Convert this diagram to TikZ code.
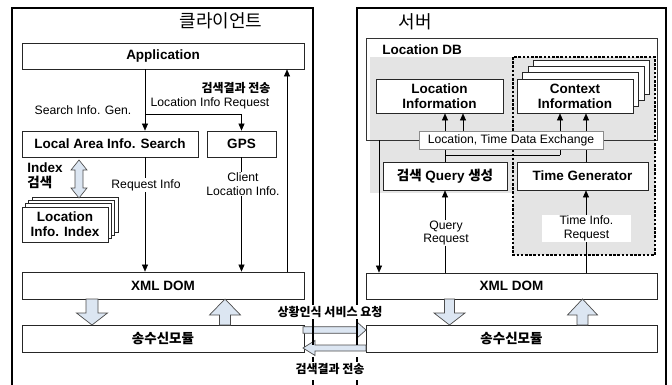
\documentclass[tikz,border=0pt]{standalone}
\usepackage{fontspec}
\setmainfont{Liberation Sans}
\newfontfamily\kr{Noto Sans CJK KR}
\usetikzlibrary{arrows.meta,calc}

\definecolor{arrowblue}{HTML}{DCE6F2}
\definecolor{dbgray}{HTML}{E4E4E4}

% vertical block arrow: centre x, tail y, head base y, tip y, shaft half width, head half width
\newcommand\vblk[6]{%
  \draw[blockarrow] ({#1-#5},#2) -- ({#1-#5},#3) -- ({#1-#6},#3) -- (#1,#4)
    -- ({#1+#6},#3) -- ({#1+#5},#3) -- ({#1+#5},#2) -- cycle;}
% horizontal block arrow: centre y, tail x, head base x, tip x, shaft half width, head half width
\newcommand\hblk[6]{%
  \draw[blockarrow] (#2,{#1-#5}) -- (#3,{#1-#5}) -- (#3,{#1-#6}) -- (#4,#1)
    -- (#3,{#1+#6}) -- (#3,{#1+#5}) -- (#2,{#1+#5}) -- cycle;}

\begin{document}
\begin{tikzpicture}[x=1pt,y=-1pt,
  box/.style={draw=black!85, line width=0.8pt, fill=white, align=center, inner sep=0pt,
    font=\fontsize{13.5}{15}\selectfont\bfseries},
  lbl/.style={font=\fontsize{12.2}{13.5}\selectfont, align=center, inner sep=1pt},
  krb/.style={font=\fontsize{12}{14}\selectfont\kr\bfseries, inner sep=1pt},
  title/.style={font=\fontsize{18}{20}\selectfont\kr, inner sep=0pt},
  wire/.style={line width=0.6pt, -{Triangle[length=7pt,width=6pt]}},
  outer/.style={line width=1.3pt, draw=black},
  blockarrow/.style={draw=black!70, line width=0.7pt, fill=arrowblue},
  layer/.style={draw=black!85, line width=0.8pt, fill=white}
]
\useasboundingbox (0,0) rectangle (672,385);

% ---------------- client side ----------------
\node[title] (ctitle) at (221,21) {클라이언트};

\node[box, minimum width=282pt, minimum height=26pt] (app) at (163,56) {Application};
\node[box, minimum width=176pt, minimum height=26pt] (lasearch) at (110,144) {Local Area Info. Search};
\node[box, minimum width=69pt, minimum height=26pt] (gps) at (241.5,144) {GPS};
\node[box, minimum width=282pt, minimum height=27pt] (xmlc) at (163,285.5) {XML DOM};
\node[box, minimum width=282pt, minimum height=27pt] (trc) at (163,338.5) {\kr 송수신모듈};

% stacked index documents
\foreach \k in {3,2,1}
  \draw[layer] ({22+3.3*\k},{207-3.3*\k}) rectangle ({108+3.3*\k},{242-3.3*\k});
\node[box, minimum width=86pt, minimum height=35pt] (locidx) at (65,224.5) {Location\\Info. Index};

\coordinate (c1) at (145,0);
\coordinate (c3) at (287,0);
\coordinate (br) at (145,114);
\draw[wire] (app.south -| c1) -- (lasearch.north -| c1);
\draw[wire] (br) -| (gps.north);
\draw[wire] (lasearch.south -| c1) -- (xmlc.north -| c1);
\draw[wire] (gps.south) -- (xmlc.north -| gps.south);
\draw[wire] (xmlc.north -| c3) -- (app.south -| c3);

\node[lbl] (sig) at (83,110) {Search Info. Gen.};
\node[krb] (cres) at (236,88) {검색결과 전송};
\node[lbl] (lir) at (210,103) {Location Info Request};
\node[lbl, fill=white] (reqi) at (146,185) {Request Info};
\node[lbl, fill=white] (cli) at (243,184) {Client\\Location Info.};
\node[box, draw=none, fill=none, align=left, anchor=west] (idxs) at (27,176) {Index\\{\kr 검색}};

% index search double arrow
\draw[blockarrow] (79,160) -- (87,170) -- (83,170) -- (83,188) -- (87,188) -- (79,198)
  -- (71,188) -- (75,188) -- (75,170) -- (71,170) -- cycle;

% XML DOM <-> module
\vblk{92}{299}{313}{325}{6}{15.5}
\vblk{225}{325}{315}{299}{5.5}{15.5}

% ---------------- server side ----------------
\node[title] (stitle) at (415,22) {서버};

% grey regions of the location DB
\fill[dbgray] (370,57) rectangle (513,193);
\fill[dbgray] (513,57) rectangle (655,255);
\node[draw=black!80, line width=0.8pt, minimum width=291pt, minimum height=102pt, inner sep=0pt]
  (locdb) at (511.5,89) {};
\node[box, draw=none, fill=none, anchor=west] (dbname) at (382,50) {Location DB};
\draw[line width=2.6pt, dash pattern=on 2.6pt off 1.6pt] (513,57) rectangle (655,255);

\node[box, minimum width=127pt, minimum height=34pt] (locinfo) at (439.5,96) {Location\\Information};
\foreach \k in {3,2,1}
  \draw[layer] ({517+5.5*\k},{79-6.3*\k}) rectangle ({633+5.5*\k},{113-6.3*\k});
\node[box, minimum width=116pt, minimum height=34pt] (context) at (575,96) {Context\\Information};

\node[box, minimum width=124pt, minimum height=28pt] (query) at (445,176) {{\kr 검색} Query {\kr 생성}};
\node[box, minimum width=131pt, minimum height=28pt] (timegen) at (582.5,176) {Time Generator};
\node[box, minimum width=291pt, minimum height=26pt] (xmls) at (511.5,286) {XML DOM};
\node[box, minimum width=291pt, minimum height=27pt] (trs) at (511.5,338.5) {\kr 송수신모듈};

\coordinate (s2) at (463,0);
\coordinate (s3) at (560,0);
\coordinate (s4) at (586,0);
\coordinate (s6) at (379,0);
\coordinate (hb) at (445,155);

\draw[wire] (query.north) -- (locinfo.south -| query.north);
\draw[line width=0.6pt] (hb) -| (s3 |- hb);
\draw[wire] (s3 |- hb) -- (context.south -| s3);
\draw[wire] (timegen.north -| s4) -- (context.south -| s4);
\draw[wire] (xmls.north -| query.south) -- (query.south);
\draw[wire] (xmls.north -| s4) -- (timegen.south -| s4);
\draw[wire] (locdb.south -| s6) -- (xmls.north -| s6);

\node[lbl, draw=black!45, line width=0.8pt, fill=white, minimum width=184pt, minimum height=18pt, inner sep=0pt]
  (xchg) at (511,140) {Location, Time Data Exchange};
\draw[wire] (xchg.north -| s2) -- (locinfo.south -| s2);

\node[lbl, fill=white] (qreq) at (446,233) {Query\\Request};
\node[lbl, fill=white, minimum width=89pt, minimum height=27pt, inner sep=0pt] (treq) at (586.5,228.5) {Time Info.\\Request};

\vblk{449.5}{299}{313}{325}{5}{15.5}
\vblk{582.5}{325}{315}{299}{5.5}{15}

% ---------------- exchange between client and server ----------------
\hblk{330}{303}{357}{366}{3.3}{8}
\hblk{348}{366}{315}{303}{3}{7.5}

% outer frames
\draw[outer] (12,385) -- (12,8) -- (313,8) -- (313,345);
\draw[outer, dash pattern=on 5pt off 18pt] (313,357) -- (313,385);
\draw[outer] (357,345) -- (357,8) -- (666,8) -- (666,385);
\draw[outer, dash pattern=on 5pt off 18pt] (357,357) -- (357,385);

\node[krb, fill=white] (sreq) at (330,312) {상황인식 서비스 요청};
\node[krb, fill=white] (sres) at (330,369) {검색결과 전송};
\end{tikzpicture}
\end{document}
